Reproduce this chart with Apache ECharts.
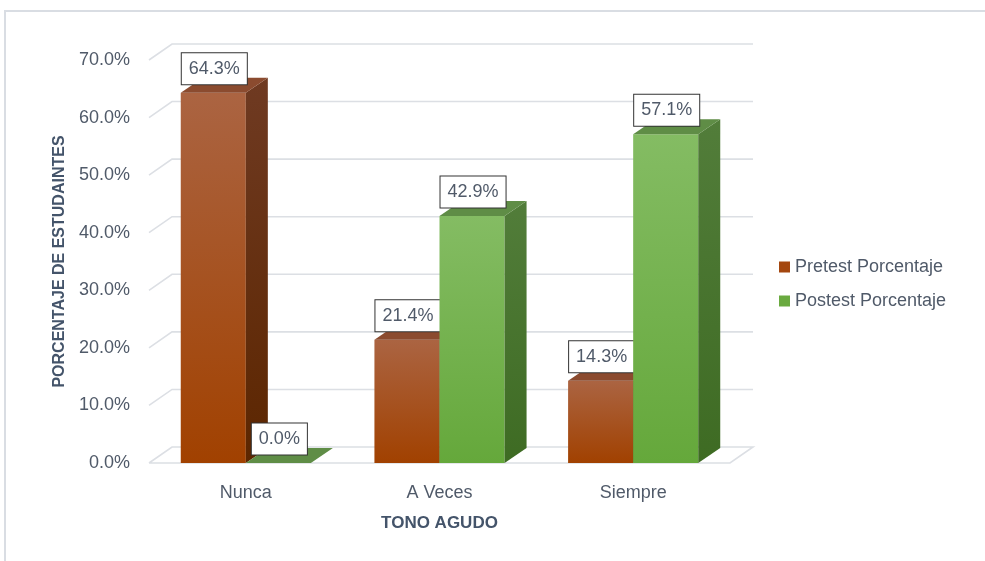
<!DOCTYPE html>
<html>
<head>
<meta charset="utf-8">
<script src="https://cdn.jsdelivr.net/npm/echarts@6/dist/echarts.min.js"></script>
<style>
  html, body { margin: 0; padding: 0; background: #fff; }
  #chart { width: 985px; height: 561px; }
</style>
</head>
<body>
<div id="chart"></div>
<script>
var categories = ['Nunca', 'A Veces', 'Siempre'];
var pretest = [64.3, 21.4, 14.3];
var postest = [0.0, 42.9, 57.1];
var yTicks = [0, 10, 20, 30, 40, 50, 60, 70];

var textColor = '#505a69';
var font = 'Liberation Sans';

// 3d depth of bars and of the walls
var barDx = 22, barDy = -15;
var wallDx = 23, wallDy = -16;

function grad(a, b) {
  return new echarts.graphic.LinearGradient(0, 0, 0, 1, [
    {offset: 0, color: a},
    {offset: 1, color: b}
  ]);
}

function wallItem(params, api) {
  var v = api.value(1);
  var band = api.size([1, 0])[0];
  var left = api.coord([0, v]);
  var right = api.coord([categories.length - 1, v]);
  var xl = left[0] - band / 2, xr = right[0] + band / 2, y = left[1];
  var pts = v === 0
    ? [[xl, y], [xl + wallDx, y + wallDy], [xr + wallDx, y + wallDy], [xr, y], [xl, y]]
    : [[xl, y], [xl + wallDx, y + wallDy], [xr + wallDx, y + wallDy]];
  return {
    type: 'polyline',
    shape: {points: pts},
    style: {stroke: '#dcdfe4', lineWidth: 1.6, fill: null}
  };
}

function barItem(side, c) {
  return function (params, api) {
    var i = api.value(0), v = api.value(1);
    var base = api.coord([i, 0]);
    var top = api.coord([i, v]);
    var band = api.size([1, 0])[0];
    var w = band * 0.336;
    var x0 = side < 0 ? base[0] - w : base[0];
    var x1 = x0 + w;
    var yb = base[1], yt = top[1];
    var children = [];
    if (yb - yt > 0.5) {
      children.push({
        type: 'rect',
        shape: {x: x0, y: yt, width: w, height: yb - yt},
        style: {fill: grad(c.front[0], c.front[1])}
      });
      children.push({
        type: 'polygon',
        shape: {points: [[x1, yt], [x1 + barDx, yt + barDy], [x1 + barDx, yb + barDy], [x1, yb]]},
        style: {fill: grad(c.side[0], c.side[1])}
      });
    }
    children.push({
      type: 'polygon',
      shape: {points: [[x0, yt], [x0 + barDx, yt + barDy], [x1 + barDx, yt + barDy], [x1, yt]]},
      style: {fill: c.top}
    });
    children.push({
      type: 'text',
      x: (x0 + x1) / 2 + 1,
      y: yt - 24,
      z2: 100,
      style: {
        text: v.toFixed(1) + '%',
        font: '18px ' + font,
        fill: textColor,
        align: 'center',
        verticalAlign: 'middle',
        backgroundColor: '#fff',
        borderColor: '#333',
        borderWidth: 1,
        padding: [7, 7, 6, 7]
      }
    });
    return {type: 'group', children: children};
  };
}

var preColors = {front: ['#ab6442', '#a14100'], side: ['#6f3a22', '#5c2600'], top: '#8b4b2f'};
var postColors = {front: ['#84bc63', '#65a83b'], side: ['#527d3a', '#3e6b23'], top: '#5f8d46'};

var chart = echarts.init(document.getElementById('chart'));
chart.setOption({
  animation: false,
  grid: {left: 149, right: 255, top: 60, bottom: 98},
  graphic: [{
    type: 'rect',
    shape: {x: 5, y: 11, width: 1000, height: 600},
    style: {fill: null, stroke: '#d9dde3', lineWidth: 2}
  }],
  legend: {
    orient: 'vertical',
    left: 774,
    top: 253,
    itemWidth: 11,
    itemHeight: 11,
    itemGap: 16,
    icon: 'rect',
    textStyle: {fontFamily: font, fontSize: 18, color: textColor},
    data: ['Pretest Porcentaje', 'Postest Porcentaje']
  },
  xAxis: {
    type: 'category',
    data: categories,
    axisLine: {show: false},
    axisTick: {show: false},
    axisLabel: {margin: 21, fontFamily: font, fontSize: 18, color: textColor},
    name: 'TONO AGUDO',
    nameLocation: 'middle',
    nameGap: 52,
    nameTextStyle: {fontFamily: font, fontSize: 17, fontWeight: 'bold', color: '#44546a'}
  },
  yAxis: {
    type: 'value',
    min: yTicks[0],
    max: yTicks[yTicks.length - 1],
    interval: 10,
    splitLine: {show: false},
    axisLine: {show: false},
    axisTick: {show: false},
    axisLabel: {
      margin: 19, fontFamily: font, fontSize: 18, color: textColor,
      formatter: function (v) { return v.toFixed(1) + '%'; }
    },
    name: 'PORCENTAJE DE ESTUDAINTES',
    nameLocation: 'middle',
    nameRotate: 90,
    nameGap: 80,
    nameTextStyle: {fontFamily: font, fontSize: 16, fontWeight: 'bold', color: '#44546a'}
  },
  series: [
    {
      type: 'custom',
      silent: true,
      z: 1,
      renderItem: wallItem,
      data: yTicks.map(function (t) { return [0, t]; })
    },
    {
      name: 'Pretest Porcentaje',
      type: 'custom',
      z: 2,
      itemStyle: {color: '#a4470f'},
      renderItem: barItem(-1, preColors),
      data: pretest.map(function (v, i) { return [i, v]; })
    },
    {
      name: 'Postest Porcentaje',
      type: 'custom',
      z: 3,
      itemStyle: {color: '#6aaa40'},
      renderItem: barItem(1, postColors),
      data: postest.map(function (v, i) { return [i, v]; })
    }
  ]
});
</script>
</body>
</html>
